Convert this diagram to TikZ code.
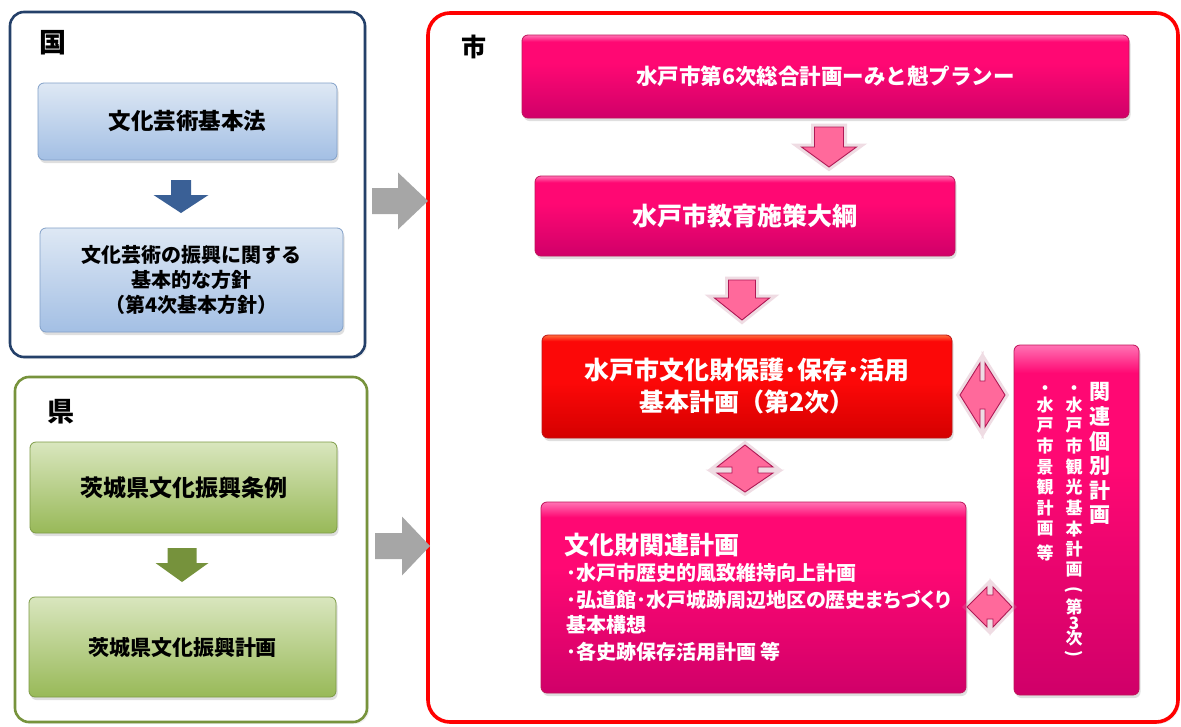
\documentclass[tikz,border=0pt]{standalone}
\usepackage{fontspec}
\usepackage{graphicx}
\newfontfamily\jp{Noto Sans CJK JP}
\newfontfamily\jpp{Noto Sans CJK JP}[RawFeature=+palt]
\usetikzlibrary{shadows}
\newcommand\fsz[2]{\fontsize{#1pt}{#2pt}\selectfont}
\definecolor{navyEdge}{RGB}{36,64,105}
\definecolor{oliveEdge}{RGB}{119,147,60}
\definecolor{cityRed}{RGB}{255,0,0}
\definecolor{blueTop}{RGB}{222,232,244}
\definecolor{blueBot}{RGB}{163,191,228}
\definecolor{blueEdge}{RGB}{130,160,200}
\definecolor{greenTop}{RGB}{217,230,190}
\definecolor{greenBot}{RGB}{152,185,88}
\definecolor{greenEdge}{RGB}{125,155,70}
\definecolor{blueArr}{RGB}{58,96,150}
\definecolor{greenArr}{RGB}{118,146,60}
\definecolor{grayArr}{RGB}{166,166,166}
\definecolor{magTop}{RGB}{255,115,180}
\definecolor{magMid}{RGB}{255,8,115}
\definecolor{magBot}{RGB}{208,0,105}
\definecolor{magEdge}{RGB}{190,20,90}
\definecolor{redTop}{RGB}{255,110,60}
\definecolor{redMid}{RGB}{252,8,8}
\definecolor{redBot}{RGB}{212,0,0}
\definecolor{redEdge}{RGB}{190,20,20}
\definecolor{pinkFill}{RGB}{255,105,155}
\definecolor{pinkEdge}{RGB}{175,25,85}
\definecolor{pinkGlow}{RGB}{205,140,165}
\pgfdeclareverticalshading{magsh}{100bp}{color(0bp)=(magBot); color(25bp)=(magBot); color(58bp)=(magMid); color(71bp)=(magMid); color(75bp)=(magTop); color(100bp)=(magTop)}
\pgfdeclareverticalshading{redsh}{100bp}{color(0bp)=(redBot); color(25bp)=(redBot); color(52bp)=(redMid); color(72bp)=(redMid); color(75bp)=(redTop); color(100bp)=(redTop)}
% block arrows
\newcommand\DArrow[7]{\path[#1] ({#2-#4},#3) -- ({#2+#4},#3) -- ({#2+#4},#5) -- ({#2+#6},#5) -- (#2,#7) -- ({#2-#6},#5) -- ({#2-#4},#5) -- cycle;}
\newcommand\RArrow[7]{\path[#1] (#3,{#2-#4}) -- (#5,{#2-#4}) -- (#5,{#2-#6}) -- (#7,#2) -- (#5,{#2+#6}) -- (#5,{#2+#4}) -- (#3,{#2+#4}) -- cycle;}
\newcommand\HDArrow[8]{\path[#1] (#3,#2) -- (#4,{#2-#7}) -- (#4,{#2-#8}) -- (#5,{#2-#8}) -- (#5,{#2-#7}) -- (#6,#2) -- (#5,{#2+#7}) -- (#5,{#2+#8}) -- (#4,{#2+#8}) -- (#4,{#2+#7}) -- cycle;}
\newcommand\VDArrow[8]{\path[#1] (#2,#3) -- ({#2+#7},#4) -- ({#2+#8},#4) -- ({#2+#8},#5) -- ({#2+#7},#5) -- (#2,#6) -- ({#2-#7},#5) -- ({#2-#8},#5) -- ({#2-#8},#4) -- ({#2-#7},#4) -- cycle;}
\begin{document}
\begin{tikzpicture}[x=1pt,y=-1pt,
  font=\jp\bfseries,
  panel/.style={draw, fill=white, rounded corners=14pt, line width=2.6pt, inner sep=0pt,
    drop shadow={shadow xshift=2pt, shadow yshift=-2pt, opacity=0.12}},
  box/.style={draw, rounded corners=6pt, line width=0.8pt, inner sep=0pt,
    drop shadow={shadow xshift=1.5pt, shadow yshift=-3pt, opacity=0.25}},
  bluebox/.style={box, draw=blueEdge, top color=blueTop, bottom color=blueBot, text=black},
  greenbox/.style={box, draw=greenEdge, top color=greenTop, bottom color=greenBot, text=black},
  magbox/.style={box, draw=magEdge, shade, shading=magsh, text=white},
  redbox/.style={box, draw=redEdge, shade, shading=redsh, text=white},
  lbl/.style={inner sep=0pt, font=\jp\bfseries\fsz{27}{30}},
  pinkarr/.style={fill=pinkFill, draw=pinkEdge, line width=0.9pt,
    preaction={draw=pinkGlow, line width=7pt, opacity=0.3}},
  bluearr/.style={fill=blueArr},
  greenarr/.style={fill=greenArr},
  grayarr/.style={fill=grayArr},
  vchar/.style={inner sep=0pt, text=white}
]
\useasboundingbox (0,0) rectangle (1181,726);

% panels
\node[panel, draw=navyEdge, minimum width=355pt, minimum height=345pt] (kuni) at (187.5,184.5) {};
\node[panel, draw=oliveEdge, minimum width=352pt, minimum height=345pt] (ken) at (191,549.5) {};
\node[panel, draw=cityRed, line width=3.6pt, rounded corners=22pt, minimum width=750pt, minimum height=709pt] (shi) at (803,367.5) {};

\node[lbl] (kuniL) at (53,43) {国};
\node[lbl] (kenL) at (61,412) {県};
\node[lbl, font=\jp\bfseries\fsz{25}{28}] (shiL) at (474,47) {市};

% national
\node[bluebox, minimum width=299pt, minimum height=77pt, font=\jp\bfseries\fsz{22.5}{26}] (k1) at (187.5,121.5) {文化芸術基本法};
\node[bluebox, minimum width=303pt, minimum height=104pt, align=center, font=\jp\bfseries\fsz{20}{25}] (k2) at (191.5,280) {文化芸術の振興に関する\\基本的な方針\\（第4次基本方針）};
\DArrow{bluearr}{181}{180}{10}{195}{27.5}{213}

% prefecture
\node[greenbox, minimum width=307pt, minimum height=91pt, font=\jp\bfseries\fsz{23}{26}] (p1) at (183.5,487.5) {茨城県文化振興条例};
\node[greenbox, minimum width=307pt, minimum height=100pt, font=\jp\bfseries\fsz{21}{24}] (p2) at (182.5,647) {茨城県文化振興計画};
\DArrow{greenarr}{182}{548}{14.5}{563}{26.5}{582}

% gray arrows
\RArrow{grayarr}{201}{372}{13}{398}{28.5}{428}
\RArrow{grayarr}{546}{375}{13}{402}{29.5}{430}

% city
\node[magbox, minimum width=607pt, minimum height=83pt, font=\jp\bfseries\fsz{21.5}{24}] (a) at (825.5,76.5) {水戸市第6次総合計画ーみと魁プランー};
\node[magbox, minimum width=420pt, minimum height=80pt, font=\jp\bfseries\fsz{25}{28}] (b) at (745,216) {水戸市教育施策大綱};
\node[redbox, minimum width=410pt, minimum height=103pt, align=center, font=\jp\bfseries\fsz{25}{32}] (c) at (747,386.5) {水戸市文化財保護･保存･活用\\基本計画（第2次）};
\node[magbox, minimum width=425pt, minimum height=191pt] (d) at (753.5,597.5) {};
\node[magbox, minimum width=125pt, minimum height=350pt] (e) at (1076.5,520) {};

\node[anchor=west, inner sep=0pt, text=white, font=\jp\bfseries\fsz{25}{28}] (dT) at (564,545) {文化財関連計画};
\node[anchor=west, inner sep=0pt, text=white, font=\jpp\bfseries\fsz{20}{24}] (d1) at (566,573) {･水戸市歴史的風致維持向上計画};
\node[anchor=west, inner sep=0pt, text=white, font=\jpp\bfseries\fsz{20}{24}] (d2) at (566,600) {･弘道館･水戸城跡周辺地区の歴史まちづくり};
\node[anchor=west, inner sep=0pt, text=white, font=\jpp\bfseries\fsz{20}{24}] (d3) at (566,625) {基本構想};
\node[anchor=west, inner sep=0pt, text=white, font=\jpp\bfseries\fsz{20}{24}] (d4) at (566,652) {･各史跡保存活用計画 等};

% vertical text in E
\foreach \c/\y [count=\i] in {関/392,連/416.6,個/441.2,別/465.8,計/490.4,画/515}
  \node[vchar, font=\jp\bfseries\fsz{21}{21}] (er\i) at (1100,\y) {\c};
\foreach \c/\y [count=\i] in {・/390,水/405,戸/425.6,市/446,観/467,光/487,基/508,本/529,計/549,画/570,{\rotatebox{-90}{(}}/590,第/607,3/623,次/638,{\rotatebox{-90}{)}}/654}
  \node[vchar, font=\jp\bfseries\fsz{17}{17}] (em\i) at (1074,\y) {\c};
\foreach \c/\y [count=\i] in {・/390,水/405,戸/425.6,市/446,景/467,観/487,計/508,画/529,等/553}
  \node[vchar, font=\jp\bfseries\fsz{17}{17}] (el\i) at (1045,\y) {\c};

% pink arrows
\DArrow{pinkarr}{829}{127}{14.5}{147}{27.5}{167}
\DArrow{pinkarr}{742}{280}{13.5}{298}{27.5}{320}
\VDArrow{pinkarr}{745}{445}{467}{473}{492}{28}{13}
\HDArrow{pinkarr}{395}{960}{980}{985}{1005}{32}{14}
\HDArrow{pinkarr}{607}{967}{987}{993}{1012}{20}{12}
\end{tikzpicture}
\end{document}
